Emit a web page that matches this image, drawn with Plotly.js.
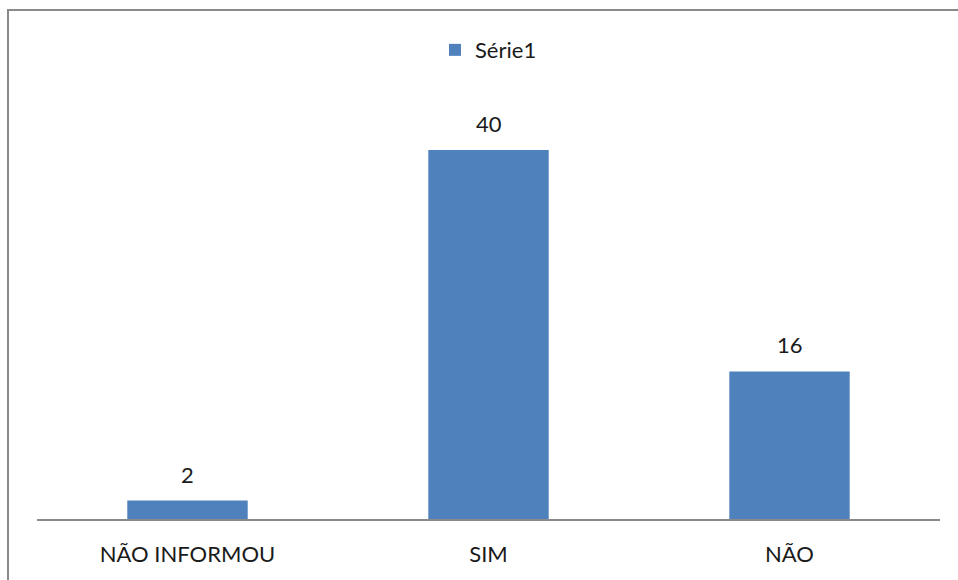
<!DOCTYPE html>
<html>
<head>
<meta charset="utf-8">
<script src="https://cdn.plot.ly/plotly-3.0.1.min.js"></script>
<style>
html,body{margin:0;padding:0;overflow:hidden;background:#fff;}
#chart{width:958px;height:580px;}
#frame{position:absolute;left:7px;top:9px;width:1000px;height:1000px;border:2px solid #8a8a8a;box-sizing:border-box;pointer-events:none;}
</style>
</head>
<body>
<div id="chart"></div>
<div id="frame"></div>
<script>
const categories = ["NÃO INFORMOU", "SIM", "NÃO"];
const values = [2, 40, 16];
const seriesName = "Série1";

const font = "Lato, 'Open Sans', sans-serif";

const trace = {
  type: "bar",
  x: categories,
  y: values,
  name: seriesName,
  marker: {color: "#4F81BD"},
  showlegend: true,
  hoverinfo: "none"
};

const annotations = categories.map((c, i) => ({
  x: c, y: values[i], xref: "x", yref: "y",
  text: String(values[i]),
  showarrow: false, yanchor: "bottom", yshift: 11,
  font: {family: font, size: 22, color: "#1a1a1a"}
}));

const layout = {
  width: 958, height: 580,
  margin: {l: 37, r: 18, t: 104, b: 61},
  paper_bgcolor: "#fff", plot_bgcolor: "#fff",
  bargap: 0.6,
  showlegend: true,
  legend: {orientation: "h", x: 0.5, xanchor: "center", y: 1.13, yanchor: "middle",
           font: {family: font, size: 22, color: "#1a1a1a"}, itemwidth: 30},
  xaxis: {
    showline: true, linecolor: "#8a8a8a", linewidth: 1.5,
    ticks: "", ticklabelstandoff: 15,
    tickfont: {family: font, size: 22, color: "#1a1a1a"},
    showgrid: false, zeroline: false
  },
  yaxis: {
    range: [0, 45], visible: false, showgrid: false, zeroline: false
  },
  annotations: annotations
};

Plotly.newPlot("chart", [trace], layout, {displayModeBar: false, staticPlot: true});
</script>
</body>
</html>
